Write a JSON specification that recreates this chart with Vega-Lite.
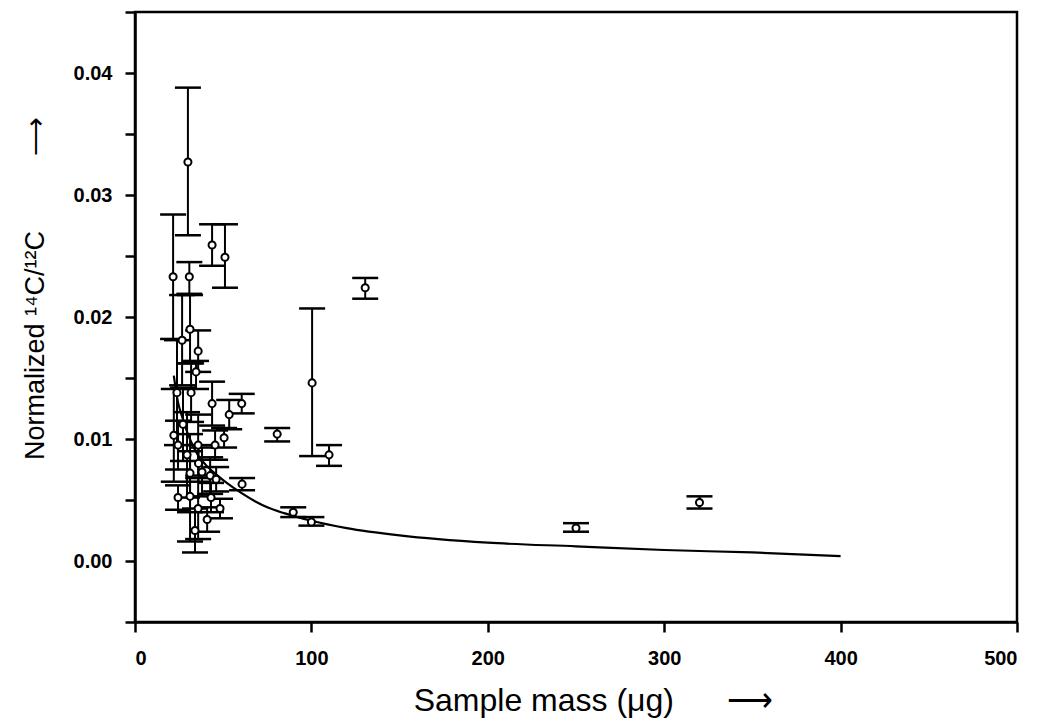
{
  "$schema": "https://vega.github.io/schema/vega-lite/v6.json",
  "width": 882,
  "height": 610,
  "autosize": {"type": "none"},
  "padding": {"left": 135, "top": 12, "right": 23, "bottom": 97},
  "background": "white",
  "config": {
    "view": {"stroke": "black", "strokeWidth": 2.5},
    "axis": {
      "domainColor": "black",
      "domainWidth": 2.5,
      "tickColor": "black",
      "tickWidth": 2.5,
      "tickSize": 10,
      "grid": false,
      "labelFont": "Liberation Sans",
      "labelFontWeight": "bold",
      "labelFontSize": 20,
      "labelColor": "black",
      "titleFont": "Liberation Sans",
      "titleFontWeight": "normal",
      "titleFontSize": 27,
      "titleColor": "black"
    }
  },
  "datasets": {
    "pts": [
      {"mass": 30.0, "ratio": 0.0327, "lo": 0.0267, "hi": 0.0388},
      {"mass": 43.7, "ratio": 0.0259, "lo": 0.0242, "hi": 0.0276},
      {"mass": 51.0, "ratio": 0.0249, "lo": 0.0224, "hi": 0.0276},
      {"mass": 21.6, "ratio": 0.0233, "lo": 0.0182, "hi": 0.0284},
      {"mass": 30.8, "ratio": 0.0233, "lo": 0.0219, "hi": 0.0245},
      {"mass": 31.2, "ratio": 0.0190, "lo": 0.0162, "hi": 0.0218},
      {"mass": 26.7, "ratio": 0.0181, "lo": 0.0144, "hi": 0.0218},
      {"mass": 35.8, "ratio": 0.0172, "lo": 0.0155, "hi": 0.0189},
      {"mass": 34.6, "ratio": 0.0155, "lo": 0.0141, "hi": 0.0164},
      {"mass": 23.8, "ratio": 0.0138, "lo": 0.0095, "hi": 0.0181},
      {"mass": 31.8, "ratio": 0.0138, "lo": 0.0114, "hi": 0.0162},
      {"mass": 43.7, "ratio": 0.0129, "lo": 0.0111, "hi": 0.0147},
      {"mass": 60.5, "ratio": 0.0129, "lo": 0.0121, "hi": 0.0137},
      {"mass": 53.4, "ratio": 0.0120, "lo": 0.0108, "hi": 0.0132},
      {"mass": 80.6, "ratio": 0.0104, "lo": 0.0098, "hi": 0.0109},
      {"mass": 27.2, "ratio": 0.0112, "lo": 0.0082, "hi": 0.0142},
      {"mass": 22.0, "ratio": 0.0103, "lo": 0.0065, "hi": 0.0141},
      {"mass": 24.4, "ratio": 0.0095, "lo": 0.0075, "hi": 0.0115},
      {"mass": 50.5, "ratio": 0.0101, "lo": 0.0093, "hi": 0.0109},
      {"mass": 45.4, "ratio": 0.0095, "lo": 0.0083, "hi": 0.0107},
      {"mass": 35.8, "ratio": 0.0095, "lo": 0.0070, "hi": 0.0120},
      {"mass": 29.5, "ratio": 0.0087, "lo": 0.0052, "hi": 0.0122},
      {"mass": 36.0, "ratio": 0.0080, "lo": 0.0065, "hi": 0.0095},
      {"mass": 31.2, "ratio": 0.0072, "lo": 0.0040, "hi": 0.0104},
      {"mass": 38.0, "ratio": 0.0073, "lo": 0.0053, "hi": 0.0093},
      {"mass": 42.6, "ratio": 0.0070, "lo": 0.0055, "hi": 0.0085},
      {"mass": 46.0, "ratio": 0.0067, "lo": 0.0057, "hi": 0.0077},
      {"mass": 60.7, "ratio": 0.0063, "lo": 0.0058, "hi": 0.0068},
      {"mass": 24.4, "ratio": 0.0052, "lo": 0.0042, "hi": 0.0062},
      {"mass": 31.2, "ratio": 0.0053, "lo": 0.0016, "hi": 0.0090},
      {"mass": 43.1, "ratio": 0.0052, "lo": 0.0040, "hi": 0.0064},
      {"mass": 35.8, "ratio": 0.0043, "lo": 0.0018, "hi": 0.0068},
      {"mass": 48.2, "ratio": 0.0043, "lo": 0.0035, "hi": 0.0051},
      {"mass": 40.9, "ratio": 0.0034, "lo": 0.0024, "hi": 0.0044},
      {"mass": 34.0, "ratio": 0.0025, "lo": 0.0007, "hi": 0.0043},
      {"mass": 89.7, "ratio": 0.0040, "lo": 0.0036, "hi": 0.0044},
      {"mass": 100.0, "ratio": 0.0032, "lo": 0.0029, "hi": 0.0036},
      {"mass": 110.0, "ratio": 0.0087, "lo": 0.0078, "hi": 0.0095},
      {"mass": 100.4, "ratio": 0.0146, "lo": 0.0086, "hi": 0.0207},
      {"mass": 130.5, "ratio": 0.0224, "lo": 0.0215, "hi": 0.0232},
      {"mass": 250.0, "ratio": 0.0027, "lo": 0.0024, "hi": 0.0031},
      {"mass": 320.0, "ratio": 0.0048, "lo": 0.0043, "hi": 0.0053}
    ],
    "curve": [
      {"mass": 22, "ratio": 0.0152},
      {"mass": 24.4, "ratio": 0.0130},
      {"mass": 27, "ratio": 0.0117},
      {"mass": 30, "ratio": 0.0104},
      {"mass": 33, "ratio": 0.0094},
      {"mass": 36, "ratio": 0.0086},
      {"mass": 40, "ratio": 0.0079},
      {"mass": 46, "ratio": 0.0071},
      {"mass": 52, "ratio": 0.0064},
      {"mass": 60, "ratio": 0.0056},
      {"mass": 68, "ratio": 0.0049},
      {"mass": 75, "ratio": 0.0044},
      {"mass": 85, "ratio": 0.0039},
      {"mass": 100, "ratio": 0.0033},
      {"mass": 120, "ratio": 0.0027},
      {"mass": 150, "ratio": 0.0021},
      {"mass": 200, "ratio": 0.0015},
      {"mass": 250, "ratio": 0.0012},
      {"mass": 300, "ratio": 0.0009},
      {"mass": 350, "ratio": 0.0007},
      {"mass": 400, "ratio": 0.0004}
    ]
  },
  "layer": [
    {
      "data": {"name": "curve"},
      "mark": {"type": "line", "color": "black", "strokeWidth": 2.2, "interpolate": "monotone"},
      "encoding": {
        "x": {
          "field": "mass", "type": "quantitative",
          "scale": {"domain": [0, 500], "nice": false, "zero": false},
          "axis": {
            "values": [0, 100, 200, 300, 400, 500],
            "format": "d",
            "labelPadding": 16,
            "title": "Sample mass (μg)\u00a0\u00a0\u00a0\u00a0\u00a0\u00a0⟶",
            "titleFontSize": 32,
            "titleX": 458,
            "titleY": 78,
            "titleAnchor": "middle",
            "titleBaseline": "middle"
          }
        },
        "y": {
          "field": "ratio", "type": "quantitative",
          "scale": {"domain": [-0.005, 0.045], "nice": false, "zero": false},
          "axis": {
            "values": [-0.005, 0, 0.005, 0.01, 0.015, 0.02, 0.025, 0.03, 0.035, 0.04, 0.045],
            "labelExpr": "round(datum.value*200) % 2 == 0 && datum.value > -0.001 && datum.value < 0.041 ? format(datum.value, '.2f') : ''",
            "labelPadding": 13,
            "title": "Normalized ¹⁴C/¹²C\u00a0\u00a0\u00a0\u00a0\u00a0\u00a0\u00a0\u00a0\u00a0\u00a0⟶",
            "titleX": -100,
            "titleY": 276,
            "titleAnchor": "middle",
            "titleBaseline": "middle"
          }
        }
      }
    },
    {
      "data": {"name": "pts"},
      "mark": {"type": "rule", "color": "black", "strokeWidth": 2},
      "encoding": {
        "x": {"field": "mass", "type": "quantitative", "title": "Sample mass (μg)\u00a0\u00a0\u00a0\u00a0\u00a0\u00a0⟶"},
        "y": {"field": "lo", "type": "quantitative", "title": "Normalized ¹⁴C/¹²C\u00a0\u00a0\u00a0\u00a0\u00a0\u00a0\u00a0\u00a0\u00a0\u00a0⟶"},
        "y2": {"field": "hi"}
      }
    },
    {
      "data": {"name": "pts"},
      "mark": {"type": "tick", "orient": "horizontal", "size": 26, "thickness": 2.5, "color": "black", "opacity": 1},
      "encoding": {
        "x": {"field": "mass", "type": "quantitative", "title": "Sample mass (μg)\u00a0\u00a0\u00a0\u00a0\u00a0\u00a0⟶"},
        "y": {"field": "hi", "type": "quantitative", "title": "Normalized ¹⁴C/¹²C\u00a0\u00a0\u00a0\u00a0\u00a0\u00a0\u00a0\u00a0\u00a0\u00a0⟶"}
      }
    },
    {
      "data": {"name": "pts"},
      "mark": {"type": "tick", "orient": "horizontal", "size": 26, "thickness": 2.5, "color": "black", "opacity": 1},
      "encoding": {
        "x": {"field": "mass", "type": "quantitative", "title": "Sample mass (μg)\u00a0\u00a0\u00a0\u00a0\u00a0\u00a0⟶"},
        "y": {"field": "lo", "type": "quantitative", "title": "Normalized ¹⁴C/¹²C\u00a0\u00a0\u00a0\u00a0\u00a0\u00a0\u00a0\u00a0\u00a0\u00a0⟶"}
      }
    },
    {
      "data": {"name": "pts"},
      "mark": {"type": "point", "shape": "circle", "filled": true, "fill": "white", "stroke": "black", "strokeWidth": 2, "size": 50, "opacity": 1},
      "encoding": {
        "x": {"field": "mass", "type": "quantitative", "title": "Sample mass (μg)\u00a0\u00a0\u00a0\u00a0\u00a0\u00a0⟶"},
        "y": {"field": "ratio", "type": "quantitative", "title": "Normalized ¹⁴C/¹²C\u00a0\u00a0\u00a0\u00a0\u00a0\u00a0\u00a0\u00a0\u00a0\u00a0⟶"}
      }
    }
  ]
}
